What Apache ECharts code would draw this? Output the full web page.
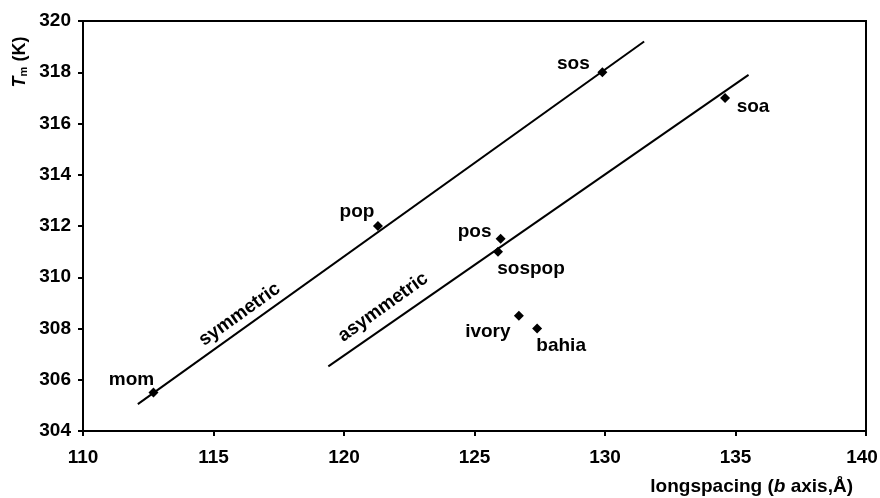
<!DOCTYPE html>
<html>
<head>
<meta charset="utf-8">
<script src="https://cdn.jsdelivr.net/npm/echarts@6/dist/echarts.min.js"></script>
<style>html,body{margin:0;padding:0;background:#fff}#c{width:880px;height:498px}</style>
</head>
<body>
<div id="c"></div>
<script>
// ---- data ----
const pointNames = ['mom', 'pop', 'sos', 'soa', 'pos', 'sospop', 'ivory', 'bahia'];
const pointX = [112.7, 121.3, 129.9, 134.6, 126.0, 125.9, 126.7, 127.4];
const pointY = [305.5, 312.0, 318.0, 317.0, 311.5, 311.0, 308.5, 308.0];
const symmetricLineX = [112.1, 131.5];
const symmetricLineY = [305.05, 319.2];
const asymmetricLineX = [119.4, 135.5];
const asymmetricLineY = [306.52, 317.9];
const lineLabels = ['symmetric', 'asymmetric'];
const lineLabelX = [116.0, 121.5];
const lineLabelY = [308.55, 308.83];
const xTicks = [110, 115, 120, 125, 130, 135, 140];
const yTicks = [304, 306, 308, 310, 312, 314, 316, 318, 320];

// ---- styling ----
const FONT = '"Liberation Sans", Arial, sans-serif';
const labelOffsets = {
  mom: [-22, -13], pop: [-21, -14], sos: [-29, -8], soa: [28, 9],
  pos: [-26, -7], sospop: [33, 17], ivory: [-31, 16], bahia: [24, 17]
};
const lineAngle = 35.6;

const chart = echarts.init(document.getElementById('c'), null, {renderer: 'canvas'});

const pts = pointNames.map((n, i) => ({
  value: [pointX[i], pointY[i]],
  name: n,
  label: {offset: labelOffsets[n]}
}));

const lblText = {fontFamily: FONT, fontWeight: 'bold', fontSize: 19, color: '#000'};
const tickFont = {fontFamily: FONT, fontWeight: 'bold', fontSize: 19, color: '#000'};

chart.setOption({
  animation: false,
  backgroundColor: '#fff',
  grid: {left: 83, right: 14, top: 21, bottom: 67, show: true, borderColor: '#000', borderWidth: 2,
    backgroundColor: 'transparent', outerBoundsMode: 'none', containLabel: false},
  xAxis: {
    type: 'value', min: xTicks[0], max: xTicks[xTicks.length - 1], interval: 5,
    axisLine: {show: true, onZero: false, lineStyle: {color: '#000', width: 2}},
    axisTick: {show: true, inside: false, length: 5, lineStyle: {color: '#000', width: 2}},
    splitLine: {show: false},
    axisLabel: Object.assign({
      margin: 17,
      formatter: v => v === xTicks[xTicks.length - 1] ? '{r|' + v + '}' : String(v),
      rich: {r: Object.assign({padding: [0, 8, 0, 0]}, tickFont)}
    }, tickFont)
  },
  yAxis: {
    type: 'value', min: yTicks[0], max: yTicks[yTicks.length - 1], interval: 2,
    axisLine: {show: true, onZero: false, lineStyle: {color: '#000', width: 2}},
    axisTick: {show: true, inside: false, length: 5, lineStyle: {color: '#000', width: 2}},
    splitLine: {show: false},
    axisLabel: Object.assign({margin: 12}, tickFont)
  },
  series: [
    {
      type: 'line', data: symmetricLineX.map((x, i) => [x, symmetricLineY[i]]),
      showSymbol: false, lineStyle: {color: '#000', width: 2}, silent: true
    },
    {
      type: 'line', data: asymmetricLineX.map((x, i) => [x, asymmetricLineY[i]]),
      showSymbol: false, lineStyle: {color: '#000', width: 2}, silent: true
    },
    {
      type: 'scatter', data: pts, symbol: 'diamond', symbolSize: 10,
      itemStyle: {color: '#000', opacity: 1},
      label: Object.assign({show: true, position: 'inside', align: 'center', verticalAlign: 'middle',
        formatter: p => p.name}, lblText)
    },
    {
      type: 'scatter', symbolSize: 0, silent: true,
      itemStyle: {opacity: 1},
      data: lineLabels.map((n, i) => ({value: [lineLabelX[i], lineLabelY[i]], name: n})),
      label: Object.assign({show: true, position: 'inside', align: 'center', verticalAlign: 'middle',
        rotate: lineAngle, formatter: p => p.name}, lblText)
    }
  ],
  graphic: [
    {
      type: 'text', x: 20, y: 62, rotation: Math.PI / 2,
      style: {
        text: '{i|T}{s|m}{n| (K)}', align: 'center', verticalAlign: 'middle',
        rich: {
          i: {fontFamily: FONT, fontWeight: 'bold', fontStyle: 'italic', fontSize: 18, fill: '#000'},
          s: {fontFamily: FONT, fontWeight: 'bold', fontSize: 11, fill: '#000', verticalAlign: 'bottom', padding: [8, 0, 0, 0]},
          n: {fontFamily: FONT, fontWeight: 'bold', fontSize: 18, fill: '#000'}
        }
      }
    },
    {
      type: 'text', x: 853, y: 487,
      style: {
        text: '{n|longspacing (}{i|b}{n| axis,Å)}', align: 'right', verticalAlign: 'middle',
        rich: {
          i: {fontFamily: FONT, fontWeight: 'bold', fontStyle: 'italic', fontSize: 19, fill: '#000'},
          n: {fontFamily: FONT, fontWeight: 'bold', fontSize: 19, fill: '#000'}
        }
      }
    }
  ]
});
</script>
</body>
</html>
